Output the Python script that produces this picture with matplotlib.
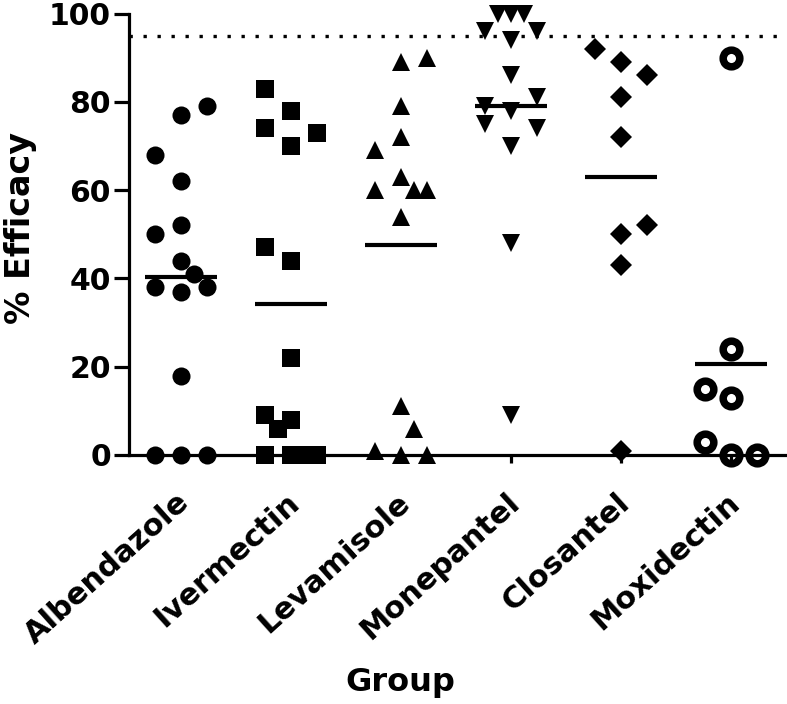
import matplotlib
matplotlib.use("Agg")
import matplotlib.pyplot as plt
import matplotlib.transforms as mtransforms
import numpy as np

# ---- data ----
groups = ["Albendazole", "Ivermectin", "Levamisole", "Monepantel", "Closantel", "Moxidectin"]

albendazole = [79, 77, 68, 62, 52, 50, 44, 41, 38, 37, 38, 18, 0, 0, 0]
ivermectin = [83, 78, 74, 73, 70, 47, 44, 22, 9, 8, 6, 0, 0, 0, 0]
levamisole = [90, 89, 79, 72, 69, 63, 60, 60, 60, 54, 11, 6, 1, 0, 0]
monepantel = [100, 100, 100, 96, 94, 96, 86, 81, 79, 78, 75, 74, 70, 48, 9]
closantel = [92, 89, 86, 81, 72, 52, 50, 43, 1]
moxidectin = [90, 24, 15, 13, 3, 0, 0]

# horizontal slot positions (in half-marker steps) for the column scatter
albendazole_slots = [2, 0, -2, 0, 0, -2, 0, 1, -2, 0, 2, 0, -2, 0, 2]
ivermectin_slots = [-2, 0, -2, 2, 0, -2, 0, 0, -2, 0, -1, -2, 0, 1, 2]
levamisole_slots = [2, 0, 0, 0, -2, 0, -2, 1, 2, 0, 0, 1, -2, 0, 2]
monepantel_slots = [-1, 0, 1, -2, 0, 2, 0, 2, -2, 0, -2, 2, 0, 0, 0]
closantel_slots = [-2, 0, 2, 0, 0, 2, 0, 0, 0]
moxidectin_slots = [0, 0, -2, 0, -2, 0, 2]

threshold = 95
yticks = [0, 20, 40, 60, 80, 100]

series = [albendazole, ivermectin, levamisole, monepantel, closantel, moxidectin]
slots = [albendazole_slots, ivermectin_slots, levamisole_slots,
         monepantel_slots, closantel_slots, moxidectin_slots]

styles = [
    dict(marker="o", ms=13, mfc="black", mec="black", mew=0),
    dict(marker="s", ms=13, mfc="black", mec="black", mew=0),
    dict(marker="^", ms=13, mfc="black", mec="black", mew=0),
    dict(marker="v", ms=13, mfc="black", mec="black", mew=0),
    dict(marker="D", ms=11.5, mfc="black", mec="black", mew=0),
    dict(marker="o", ms=12, mfc="none", mec="black", mew=5.4),
]

plt.rcParams["font.family"] = ["DejaVu Sans"]
plt.rcParams["font.weight"] = "bold"

fig = plt.figure(figsize=(7.87, 7.04), dpi=100)
ax = fig.add_axes([129 / 787, 1 - 455 / 704, 1 - 129 / 787, (455 - 13.5) / 704])

half_step = 0.12
for i, (vals, sl, st) in enumerate(zip(series, slots, styles)):
    xs = i + np.array(sl) * half_step
    ax.plot(xs, vals, linestyle="none", clip_on=False, zorder=3, **st)
    m = np.mean(vals)
    ax.plot([i - 0.33, i + 0.33], [m, m], color="black", lw=3,
            solid_capstyle="butt", zorder=4, clip_on=False)

ax.axhline(threshold, color="black", lw=2.4, linestyle=(0, (1, 3.2)),
           dash_capstyle="butt", zorder=1)

ax.set_xlim(-0.473, 5.51)
ax.set_ylim(0, 100)

for s in ["top", "right"]:
    ax.spines[s].set_visible(False)
for s in ["left", "bottom"]:
    ax.spines[s].set_linewidth(2.3)
    ax.spines[s].set_capstyle("projecting")

ax.set_yticks(yticks)
ax.set_yticklabels([str(t) for t in yticks], fontsize=21.5, fontweight="bold")
ax.tick_params(axis="y", length=11, width=2.3, pad=2)
ax.set_xticks(range(len(groups)))
ax.set_xticklabels(groups, rotation=42, ha="right", va="top",
                   rotation_mode="anchor", fontsize=22, fontweight="bold")
ax.tick_params(axis="x", length=6, width=2.3, pad=16)
offset = mtransforms.ScaledTranslation(-5 / 100, -2 / 100, fig.dpi_scale_trans)
for lab in ax.get_xticklabels():
    lab.set_transform(lab.get_transform() + offset)

fig.text(400 / 787, 1 - 683 / 704, "Group", ha="center", va="center",
         fontsize=23, fontweight="bold")
fig.text(21 / 787, 1 - 228 / 704, "% Efficacy", ha="center", va="center",
         rotation=90, fontsize=24, fontweight="bold")

fig.savefig("out.png", dpi=100)
